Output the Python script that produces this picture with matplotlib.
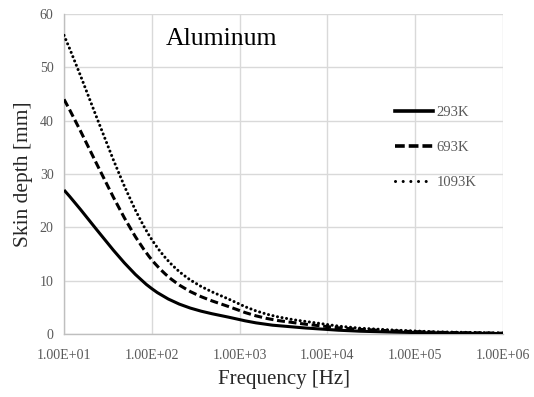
import numpy as np
import matplotlib
matplotlib.use('Agg')
import matplotlib.pyplot as plt
from matplotlib.path import Path
from matplotlib.patches import PathPatch
from matplotlib.lines import Line2D

# data (skin depth in mm at each decade)
freq_hz = [1e1, 1e2, 1e3, 1e4, 1e5, 1e6]
depth_293k = [27.0, 8.5, 2.7, 0.85, 0.27, 0.085]
depth_693k = [44.0, 13.9, 4.4, 1.39, 0.44, 0.14]
depth_1093k = [56.0, 17.7, 5.6, 1.77, 0.56, 0.18]
series_labels = ['293K', '693K', '1093K']
x_ticks = [1e1, 1e2, 1e3, 1e4, 1e5, 1e6]
x_ticklabels = ['1.00E+01', '1.00E+02', '1.00E+03', '1.00E+04', '1.00E+05', '1.00E+06']
y_ticks = [0, 10, 20, 30, 40, 50, 60]

SERIF = ['Liberation Serif', 'DejaVu Serif']
GRAY = '#595959'


def smooth_path(xs, ys):
    # excel-like smoothed line: cubic bezier segments in log-x space
    u = np.log10(xs)
    v = np.asarray(ys, dtype=float)
    n = len(u)
    verts = [(xs[0], v[0])]
    codes = [Path.MOVETO]
    for i in range(n - 1):
        if i == 0:
            tu, tv = (u[1] - u[0]) / 3.0, (v[1] - v[0]) / 3.0
        else:
            tu, tv = (u[i + 1] - u[i - 1]) / 6.0, (v[i + 1] - v[i - 1]) / 6.0
        if i + 1 == n - 1:
            su, sv = (u[i + 1] - u[i]) / 3.0, (v[i + 1] - v[i]) / 3.0
        else:
            su, sv = (u[i + 2] - u[i]) / 6.0, (v[i + 2] - v[i]) / 6.0
        verts += [(10 ** (u[i] + tu), v[i] + tv),
                  (10 ** (u[i + 1] - su), v[i + 1] - sv),
                  (xs[i + 1], v[i + 1])]
        codes += [Path.CURVE4] * 3
    return Path(verts, codes)


fig = plt.figure(figsize=(5.34, 3.97), dpi=100)
ax = fig.add_axes([0.1199, 0.1587, 0.822, 0.806])
ax.set_xscale('log')
ax.set_xlim(1e1, 1e6)
ax.set_ylim(0, 60)

styles = [
    dict(linestyle='-', linewidth=2.2),
    dict(linestyle=(0, (2.6, 1.2)), linewidth=2.2),
    dict(linestyle=(0, (0.01, 1.5)), linewidth=2.2, capstyle='round'),
]

for ys, st in zip([depth_293k, depth_693k, depth_1093k], styles):
    patch = PathPatch(smooth_path(freq_hz, ys), fill=False, edgecolor='black',
                      transform=ax.transData, zorder=3, **st)
    ax.add_patch(patch)

ax.set_xticks(x_ticks)
ax.set_xticklabels(x_ticklabels)
ax.minorticks_off()
ax.set_yticks(y_ticks)
ax.tick_params(length=0, labelsize=10, labelcolor=GRAY)
ax.tick_params(axis='x', pad=10.5)
ax.tick_params(axis='y', pad=7.5)
for lab in ax.get_xticklabels() + ax.get_yticklabels():
    lab.set_family(SERIF)

ax.grid(True, color='#d9d9d9', linewidth=1.0)
ax.set_axisbelow(True)
for side in ['top', 'right']:
    ax.spines[side].set_visible(False)
for side in ['left', 'bottom']:
    ax.spines[side].set_color('#bfbfbf')
    ax.spines[side].set_linewidth(1.0)

ax.set_xlabel('Frequency [Hz]', family=SERIF, fontsize=15, color='#262626', labelpad=6)
ax.set_ylabel('Skin depth [mm]', family=SERIF, fontsize=15.5, color='#262626', labelpad=5)

ax.text(0.359, 0.903, 'Aluminum', transform=ax.transAxes, ha='center', va='baseline',
        family=SERIF, fontsize=18.5, color='black')

# legend swatches are drawn a bit heavier than the curves
handles = [
    Line2D([], [], color='black', label=series_labels[0], linestyle='-', linewidth=2.6),
    Line2D([], [], color='black', label=series_labels[1], linestyle=(0, (2.7, 1.1)),
           linewidth=2.6),
    Line2D([], [], color='black', label=series_labels[2], linestyle=(0, (0.01, 2.5)),
           linewidth=2.2, dash_capstyle='round'),
]
leg = ax.legend(handles=handles, loc='upper left', bbox_to_anchor=(0.724, 0.754),
                frameon=False, handlelength=2.6, handletextpad=0.27, labelspacing=1.5,
                prop={'family': SERIF, 'size': 10.5})
for t in leg.get_texts():
    t.set_color(GRAY)

fig.savefig('out.png', dpi=100)
